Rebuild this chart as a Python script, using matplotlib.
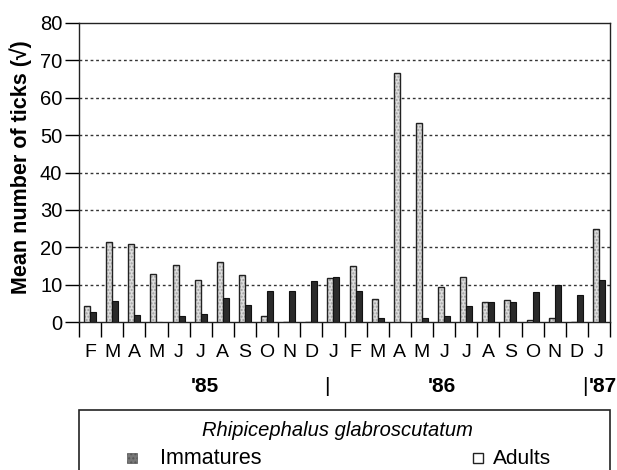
import matplotlib.pyplot as plt
import matplotlib.patches as mpatches
import numpy as np

plt.rcParams['font.family'] = ['Liberation Sans', 'DejaVu Sans']

months = ['F', 'M', 'A', 'M', 'J', 'J', 'A', 'S', 'O', 'N', 'D',
          'J', 'F', 'M', 'A', 'M', 'J', 'J', 'A', 'S', 'O', 'N', 'D', 'J']
immatures = [4.2, 21.4, 20.8, 12.9, 15.2, 11.2, 16.0, 12.5, 1.7, 0, 0,
             11.7, 14.9, 6.2, 66.5, 53.2, 9.4, 12.0, 5.3, 5.9, 0.6, 1.1, 0, 24.9]
adults = [2.7, 5.5, 2.0, 0, 1.6, 2.2, 6.4, 4.5, 8.2, 8.2, 10.9,
          12.1, 8.3, 1.2, 0, 1.2, 1.7, 4.4, 5.4, 5.4, 7.9, 10.0, 7.3, 11.2]
years = ["'85", "'86", "'87"]
year_pos = [5.7, 16.4, 23.05]
year_align = ['center', 'center', 'left']
year_breaks = [11.2, 22.85]

fig = plt.figure(figsize=(6.17, 4.70), dpi=100)
ax = fig.add_axes([79/617, 1-322/470, 531/617, 299/470])

x = np.arange(len(months)) + 0.5
w = 0.27
ax.bar(x - w/2, immatures, w, color='#dcdcdc', edgecolor='#a0a0a0', hatch='.....', linewidth=0, zorder=3)
ax.bar(x - w/2, immatures, w, fill=False, edgecolor='#222222', linewidth=1.0, zorder=4)
ax.bar(x + w/2, adults, w, color='#2a2a2a', edgecolor='#111111', linewidth=0.8, zorder=4)

for yv in range(10, 80, 10):
    ax.axhline(yv, color='#333333', lw=1.0, ls=(0, (2, 2)), zorder=1)

ax.set_xlim(0, 24)
ax.set_ylim(0, 80)
ax.set_yticks(range(0, 81, 10))
ax.set_xticks(range(0, 25))
ax.set_xticklabels([])
ax.set_xticks(x, minor=True)
ax.set_xticklabels(months, minor=True, fontsize=14)
ax.tick_params(axis='x', which='major', direction='out', length=11, width=1)
ax.tick_params(axis='x', which='minor', length=0, pad=16)
ax.tick_params(axis='y', direction='out', length=10, width=1, labelsize=14.5, pad=2)
for s in ax.spines.values():
    s.set_linewidth(1.0)
    s.set_color('#222222')
ax.set_ylabel('Mean number of ticks (\u221a)', fontsize=15.5, fontweight='bold')
ax.yaxis.set_label_coords(-0.088, 0.518)

for lab, xp, ha in zip(years, year_pos, year_align):
    ax.text(xp, -0.217, lab, transform=ax.get_xaxis_transform(), ha=ha, va='center',
            fontsize=15, fontweight='bold')
for xp in year_breaks:
    ax.text(xp, -0.217, '|', transform=ax.get_xaxis_transform(), ha='center', va='center',
            fontsize=15)

# legend box at the bottom, cut off by the figure edge
box = mpatches.Rectangle((79/617, -0.05), 531/617, 1-410/470+0.05, transform=fig.transFigure,
                         fill=False, edgecolor='#222222', linewidth=1.2)
fig.patches.append(box)
fig.text(337/617, 1-430/470, 'Rhipicephalus glabroscutatum', style='italic', fontsize=14.5,
         ha='center', va='center')
fig.patches.append(mpatches.Rectangle((127/617, 1-463/470), 10/617, 10/470, transform=fig.transFigure,
                                      facecolor='#777777', edgecolor='#555555', hatch='....', lw=0.5))
fig.text(160/617, 1-458/470, 'Immatures', fontsize=15.5, ha='left', va='center')
fig.patches.append(mpatches.Rectangle((473/617, 1-463/470), 10/617, 10/470, transform=fig.transFigure,
                                      facecolor='white', edgecolor='#222222', lw=1))
fig.text(493/617, 1-458/470, 'Adults', fontsize=15, ha='left', va='center')

fig.savefig('out.png', dpi=100)
